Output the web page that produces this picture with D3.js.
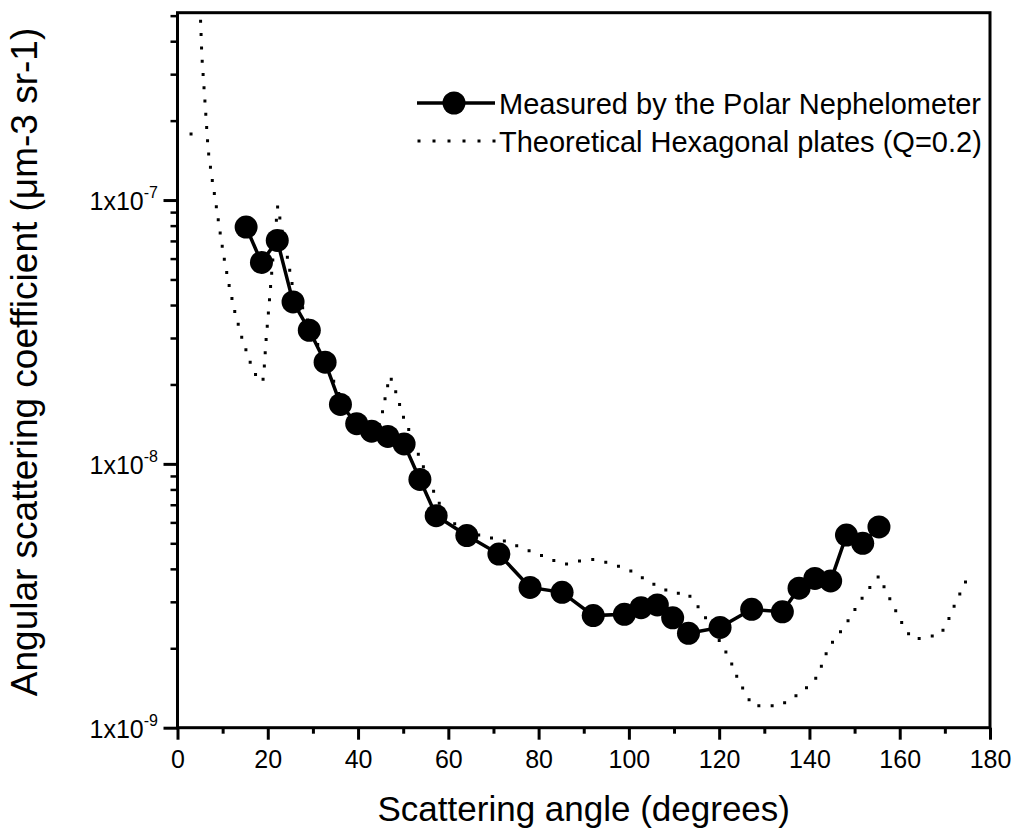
<!DOCTYPE html>
<html><head><meta charset="utf-8">
<script src="https://cdn.jsdelivr.net/npm/d3@7"></script>
<style>
body{margin:0;background:#fff}
svg{display:block}
text{font-family:"Liberation Sans",Arial,Helvetica,sans-serif;fill:#000}
</style>
</head><body>
<svg id="chart" width="1017" height="828"></svg>
<script>
// ---- data ----
const measuredAngles = [15.2, 18.6, 22.1, 25.6, 29.2, 32.7, 36.1, 39.7, 43.0, 46.6, 50.2, 53.7, 57.3, 64.1, 71.2, 78.1, 85.2, 92.1, 99.0, 102.7, 106.3, 109.7, 113.2, 120.2, 127.2, 134.0, 137.7, 141.2, 144.7, 148.2, 151.8, 155.4];
const measuredValues = [7.90e-8, 5.80e-8, 7.03e-8, 4.11e-8, 3.21e-8, 2.43e-8, 1.68e-8, 1.42e-8, 1.33e-8, 1.27e-8, 1.19e-8, 8.73e-9, 6.36e-9, 5.35e-9, 4.55e-9, 3.40e-9, 3.26e-9, 2.66e-9, 2.69e-9, 2.85e-9, 2.92e-9, 2.61e-9, 2.28e-9, 2.40e-9, 2.81e-9, 2.75e-9, 3.38e-9, 3.68e-9, 3.60e-9, 5.37e-9, 5.00e-9, 5.77e-9];

// null marks a break in the theoretical curve
const theoryAngles = [3.0, 3.1, 3.9, 4.9, 5.4, 6.0, 6.8, 7.6, 8.5, 9.4, 10.3, 11.4, 12.7, 14.3, 16.3, 17.8, 18.9, 19.2, 19.6, 20.1, 20.6, 21.3, 22.2, 23.2, 24.4, 25.5, 27.5, 30, 33, 36, 39, 42, 44.2, 44.9, 45.6, 46.3, 47.1, 48.2, 49.1, 50.0, 51.3, 53.6, 57.3, 60.0, 63.5, 67.7, 71.1, 73.9, 77.0, 79.9, 82.9, 86.0, 88.9, 92.0, 94.9, 98.0, 101.0, 103.9, 106.9, 110.0, 112.9, 115.0, 117.0, 120.6, 122.3, 124.0, 125.6, 127.4, 130.4, 133.3, 136.5, 139.4, 141.7, 143.0, 144.2, 146.8, 149.0, 150.8, 153.0, 155.4, 156.8, 158.3, 159.8, 161.3, 163.0, 166.2, 169.1, 170.6, 171.8, 173.2, 174.6];
const theoryValues = [1.78e-7, 1.79e-7, null, 6.0e-7, 3.5e-7, 2.48e-7, 1.54e-7, 1.22e-7, 9.7e-8, 7.6e-8, 6.05e-8, 4.78e-8, 3.77e-8, 2.99e-8, 2.37e-8, 2.09e-8, 2.05e-8, 2.3e-8, 2.92e-8, 3.68e-8, 4.66e-8, 6.5e-8, 9.5e-8, 7.6e-8, 6.0e-8, 4.7e-8, 4.0e-8, 3.1e-8, 2.4e-8, 1.8e-8, 1.5e-8, 1.35e-8, 1.3e-8, 1.45e-8, 1.62e-8, 1.9e-8, 2.15e-8, 1.91e-8, 1.70e-8, 1.51e-8, 1.34e-8, 1.06e-8, 7.47e-9, 6.1e-9, 5.7e-9, 5.28e-9, 5.21e-9, 4.99e-9, 4.75e-9, 4.55e-9, 4.33e-9, 4.17e-9, 4.28e-9, 4.34e-9, 4.24e-9, 4.08e-9, 3.89e-9, 3.62e-9, 3.40e-9, 3.22e-9, 3.25e-9, 2.93e-9, 2.61e-9, 2.06e-9, 1.83e-9, 1.55e-9, 1.37e-9, 1.21e-9, 1.21e-9, 1.21e-9, 1.30e-9, 1.42e-9, 1.56e-9, 1.77e-9, 2.01e-9, 2.30e-9, 2.61e-9, 2.95e-9, 3.34e-9, 3.76e-9, 3.34e-9, 2.96e-9, 2.63e-9, 2.34e-9, 2.16e-9, 2.21e-9, 2.26e-9, 2.52e-9, 2.83e-9, 3.18e-9, 3.57e-9];

const xDomain = [0, 180];
const yDomain = [1e-9, 5.13e-7];
const xTickValues = [0, 20, 40, 60, 80, 100, 120, 140, 160, 180];
const xMinorTickValues = [10, 30, 50, 70, 90, 110, 130, 150, 170];
const yMajorTickValues = [1e-9, 1e-8, 1e-7];
const yTickMantissa = ["1x10", "1x10", "1x10"];
const yTickExponents = ["-9", "-8", "-7"];
const yMinorMultipliers = [2, 3, 4, 5, 6, 7, 8, 9];
const legendLabels = ["Measured by the Polar Nephelometer", "Theoretical Hexagonal plates (Q=0.2)"];
const xTitle = "Scattering angle (degrees)";
const yTitle = "Angular scattering coefficient (\u03bcm-3 sr-1)";

// ---- layout ----
const svg = d3.select("#chart");
const plot = {left: 177.5, right: 990, top: 12.7, bottom: 727.7};
const x = d3.scaleLinear().domain(xDomain).range([plot.left, plot.right]);
const y = d3.scaleLog().domain(yDomain).range([plot.bottom, plot.top]);

svg.append("defs").append("clipPath").attr("id", "clip")
  .append("rect")
  .attr("x", plot.left).attr("y", plot.top)
  .attr("width", plot.right - plot.left).attr("height", plot.bottom - plot.top);

// minor y ticks
const yMinor = [];
yMajorTickValues.forEach(d => yMinorMultipliers.forEach(k => { const v = d * k; if (v <= yDomain[1]) yMinor.push(v); }));

// x axis
const xAxis = svg.append("g").attr("transform", `translate(0,${plot.bottom})`)
  .call(d3.axisBottom(x).tickValues(xTickValues).tickSize(12).tickPadding(11).tickFormat(d3.format("d")));
xAxis.select(".domain").remove();
xAxis.selectAll(".tick line").attr("stroke", "#000").attr("stroke-width", 3);
xAxis.selectAll(".tick text").attr("font-size", 25).attr("font-family", "Liberation Sans, Arial, sans-serif");

const xAxisMinor = svg.append("g").attr("transform", `translate(0,${plot.bottom})`)
  .call(d3.axisBottom(x).tickValues(xMinorTickValues).tickSize(6).tickFormat(""));
xAxisMinor.select(".domain").remove();
xAxisMinor.selectAll(".tick line").attr("stroke", "#000").attr("stroke-width", 3);

// y axis
const yAxis = svg.append("g").attr("transform", `translate(${plot.left},0)`)
  .call(d3.axisLeft(y).tickValues(yMajorTickValues).tickSize(14).tickFormat(""));
yAxis.select(".domain").remove();
yAxis.selectAll(".tick line").attr("stroke", "#000").attr("stroke-width", 3);

const yAxisMinor = svg.append("g").attr("transform", `translate(${plot.left},0)`)
  .call(d3.axisLeft(y).tickValues(yMinor).tickSize(7).tickFormat(""));
yAxisMinor.select(".domain").remove();
yAxisMinor.selectAll(".tick line").attr("stroke", "#000").attr("stroke-width", 2.5);

// y tick labels with superscript exponents
const yLab = svg.append("g").selectAll("text").data(yMajorTickValues).join("text")
  .attr("x", 158).attr("y", d => y(d) + 10)
  .attr("text-anchor", "end").attr("font-size", 25);
yLab.append("tspan").text((d, i) => yTickMantissa[i]);
yLab.append("tspan").attr("font-size", 16).attr("dy", -12).text((d, i) => yTickExponents[i]);

// frame
svg.append("rect")
  .attr("x", plot.left).attr("y", plot.top)
  .attr("width", plot.right - plot.left).attr("height", plot.bottom - plot.top)
  .attr("fill", "none").attr("stroke", "#000").attr("stroke-width", 3);

// theoretical dotted curve
const theory = theoryAngles.map((a, i) => ({a, v: theoryValues[i]}));
const theoryLine = d3.line().defined(d => d.v != null).x(d => x(d.a)).y(d => y(d.v));
svg.append("path").attr("clip-path", "url(#clip)")
  .attr("d", theoryLine(theory))
  .attr("fill", "none").attr("stroke", "#000").attr("stroke-width", 3)
  .attr("stroke-linecap", "square").attr("stroke-dasharray", "0,13.3");

// measured series
const measured = measuredAngles.map((a, i) => ({a, v: measuredValues[i]}));
const mLine = d3.line().x(d => x(d.a)).y(d => y(d.v));
svg.append("path").attr("d", mLine(measured))
  .attr("fill", "none").attr("stroke", "#000").attr("stroke-width", 3.5);
svg.append("g").selectAll("circle").data(measured).join("circle")
  .attr("cx", d => x(d.a)).attr("cy", d => y(d.v)).attr("r", 11.5).attr("fill", "#000");

// legend
const lg = svg.append("g");
const rows = [103, 141];
lg.append("line").attr("x1", 417).attr("x2", 495).attr("y1", rows[0]).attr("y2", rows[0])
  .attr("stroke", "#000").attr("stroke-width", 3.5);
lg.append("circle").attr("cx", 454).attr("cy", rows[0]).attr("r", 11.5).attr("fill", "#000");
lg.append("line").attr("x1", 419).attr("x2", 495).attr("y1", rows[1]).attr("y2", rows[1])
  .attr("stroke", "#000").attr("stroke-width", 3).attr("stroke-linecap", "square").attr("stroke-dasharray", "0,15");
lg.selectAll("text").data(legendLabels).join("text")
  .attr("x", 499).attr("y", (d, i) => rows[i] + 10.5)
  .attr("font-size", 29).text(d => d);

// axis titles
svg.append("text").attr("x", (plot.left + plot.right) / 2).attr("y", 821)
  .attr("text-anchor", "middle").attr("font-size", 35).text(xTitle);
svg.append("text").attr("transform", "translate(37,362) rotate(-90)")
  .attr("text-anchor", "middle").attr("font-size", 37).text(yTitle);
</script>
</body></html>
